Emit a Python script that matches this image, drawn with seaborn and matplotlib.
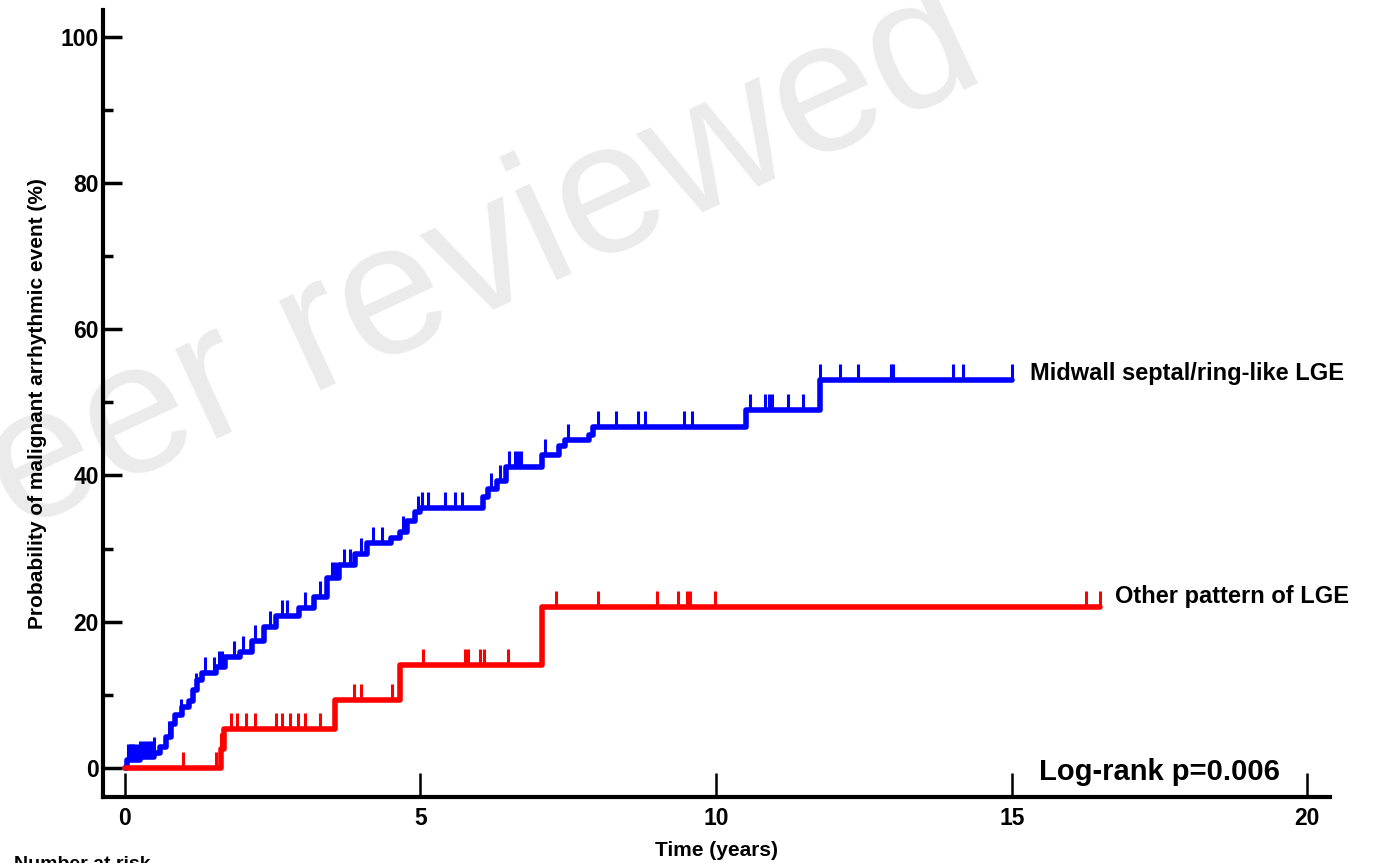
import numpy as np
import pandas as pd
import matplotlib
matplotlib.use("Agg")
import matplotlib.pyplot as plt
import seaborn as sns

# Kaplan-Meier step data (time in years, cumulative %)
blue_t = [0, 0.03, 0.25, 0.5, 0.6, 0.7, 0.78, 0.85, 0.97, 1.08, 1.15, 1.22, 1.3,
          1.55, 1.7, 1.95, 2.15, 2.35, 2.55, 2.95, 3.2, 3.42, 3.62, 3.9, 4.1,
          4.5, 4.65, 4.78, 4.9, 5.0, 6.05, 6.15, 6.3, 6.45, 7.05, 7.35, 7.45,
          7.85, 7.92, 10.5, 11.75, 15.0]
blue_v = [0, 1.0, 1.5, 2.0, 2.8, 4.2, 6.0, 7.2, 8.3, 9.2, 10.7, 12.0, 13.0,
          13.8, 15.2, 15.8, 17.3, 19.2, 20.8, 21.8, 23.4, 26.0, 27.8, 29.2, 30.8,
          31.5, 32.3, 33.8, 35.0, 35.6, 37.0, 38.2, 39.2, 41.2, 42.8, 44.0, 44.8,
          45.5, 46.6, 49.0, 53.0, 53.0]
red_t = [0, 1.63, 1.68, 3.55, 4.65, 7.05, 16.5]
red_v = [0, 2.6, 5.3, 9.3, 14.1, 22.0, 22.0]

# censored observations
blue_cens = [0.05, 0.08, 0.1, 0.13, 0.15, 0.2, 0.25, 0.3, 0.35, 0.4, 0.45, 0.5,
             0.75, 0.95, 1.2, 1.35, 1.5, 1.6, 1.65, 1.85, 2.0, 2.2, 2.45, 2.65,
             2.75, 3.05, 3.3, 3.5, 3.55, 3.7, 3.8, 4.0, 4.2, 4.35, 4.7, 4.95,
             5.03, 5.13, 5.41, 5.58, 5.7, 6.2, 6.35, 6.5, 6.6, 6.65, 6.7, 7.1,
             7.5, 8.0, 8.3, 8.68, 8.8, 9.45, 9.6, 10.58, 10.83, 10.9, 10.95,
             11.22, 11.47, 11.75, 12.1, 12.4, 12.95, 13.0, 14.0, 14.18, 15.0]
red_cens = [0.98, 1.55, 1.63, 1.8, 1.9, 2.05, 2.2, 2.55, 2.65, 2.8, 2.92, 3.05,
            3.3, 3.87, 4.0, 4.52, 5.05, 5.75, 5.8, 6.0, 6.07, 6.48, 7.3, 8.0,
            9.0, 9.35, 9.5, 9.55, 9.98, 16.25, 16.5]

groups = ["Midwall septal/ring-like LGE", "Other pattern of LGE"]
colors = {groups[0]: "#0000ff", groups[1]: "#ff0000"}

df = pd.concat([
    pd.DataFrame({"time": blue_t, "prob": blue_v, "group": groups[0]}),
    pd.DataFrame({"time": red_t, "prob": red_v, "group": groups[1]}),
])

sns.set_style("ticks")
plt.rcParams["font.family"] = ["Liberation Sans", "DejaVu Sans"]
plt.rcParams["font.weight"] = "bold"
for k in ["text.color", "axes.edgecolor", "axes.labelcolor",
          "xtick.color", "ytick.color"]:
    plt.rcParams[k] = "black"

fig = plt.figure(figsize=(13.73, 8.63), dpi=100)
ax = fig.add_axes([0.075, 0.0765, 0.894, 0.912])
ax.set_facecolor("none")

sns.lineplot(data=df, x="time", y="prob", hue="group", palette=colors,
             estimator=None, sort=False, drawstyle="steps-post",
             linewidth=4.0, legend=False, ax=ax)


def step_value(ts, vs, t):
    i = np.searchsorted(ts, t, side="right") - 1
    return vs[max(i, 0)]


for cens, ts, vs, g in [(blue_cens, blue_t, blue_v, groups[0]),
                        (red_cens, red_t, red_v, groups[1])]:
    base = np.array([step_value(ts, vs, c) for c in cens])
    ax.vlines(cens, base, base + 2.2, color=colors[g], linewidth=2.2)

ax.set_xlim(-0.37, 20.39)
ax.set_ylim(-4.0, 103.7)
ax.set_xticks([0, 5, 10, 15, 20])
ax.set_yticks([0, 20, 40, 60, 80, 100])
ax.set_yticks([10, 30, 50, 70, 90], minor=True)
ax.tick_params(axis="y", which="major", direction="in", length=14, width=2.5,
               labelsize=16.5, pad=3)
ax.tick_params(axis="y", which="minor", direction="in", length=7, width=2.5)
ax.tick_params(axis="x", which="major", direction="in", length=17, width=1.8,
               labelsize=16.5, pad=7)
for lab in ax.get_xticklabels() + ax.get_yticklabels():
    lab.set_fontweight("bold")

sns.despine(ax=ax)
for s in ["left", "bottom"]:
    ax.spines[s].set_linewidth(3)

ax.set_ylabel("Probability of malignant arrhythmic event (%)", fontsize=15,
              fontweight="bold", labelpad=10)
ax.set_xlabel("Time (years)", fontsize=15, fontweight="bold", labelpad=8)

ax.text(15.31, 54.0, groups[0], fontsize=17, fontweight="bold", va="center")
ax.text(16.75, 23.4, groups[1], fontsize=17, fontweight="bold", va="center")
ax.text(17.5, -0.6, "Log-rank p=0.006", fontsize=21, fontweight="bold",
        ha="center", va="center")

# partly cut off at the bottom edge, as in the original figure
fig.text(0.01, -0.012, "Number at risk", fontsize=14, fontweight="bold",
         va="bottom")
fig.text(0.31, 0.666, "Peer reviewed", fontsize=135, color="#ebebeb",
         fontweight="normal", rotation=25, ha="center", va="center",
         rotation_mode="anchor", zorder=-1)

plt.savefig("out.png", dpi=100)
